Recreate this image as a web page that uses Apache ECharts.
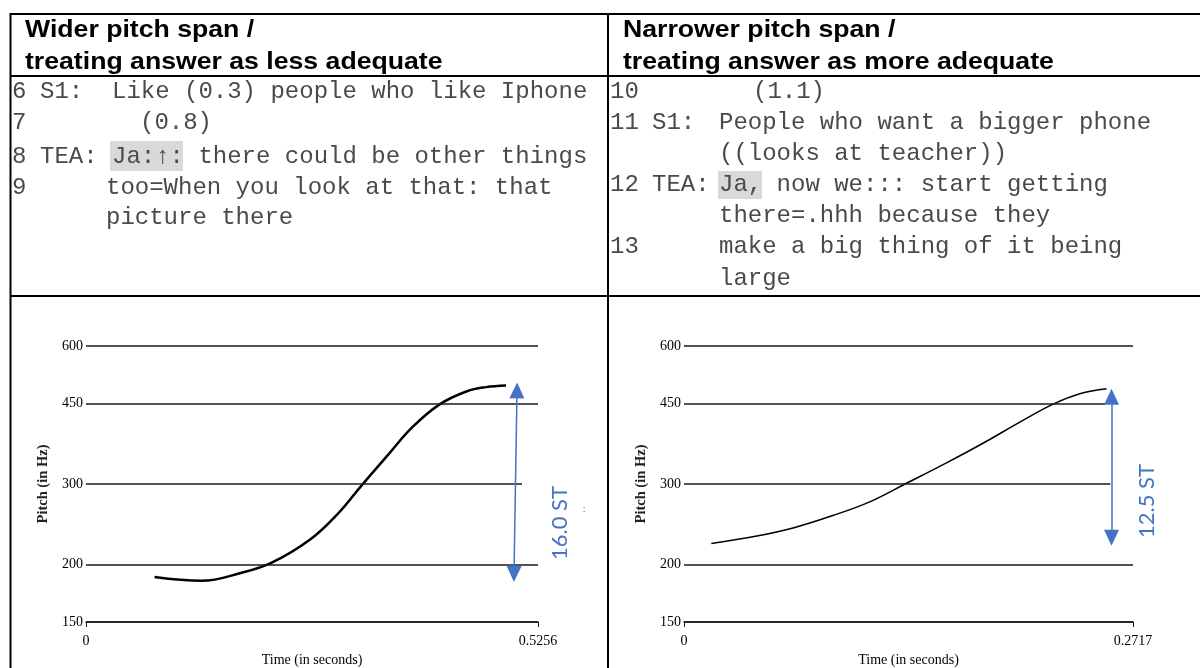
<!DOCTYPE html>
<html>
<head>
<meta charset="utf-8">
<title>Pitch span</title>
<script src="https://cdn.jsdelivr.net/npm/echarts@6/dist/echarts.min.js"></script>
<style>
  html, body { margin: 0; padding: 0; background: #fff; }
  #chart { width: 1200px; height: 668px; }
</style>
</head>
<body>
<div id="chart"></div>
<script>
// pitch ticks shared by both panels (Hz, log scale)
const pitchTicks = [150, 200, 300, 450, 600]

// left panel: wider pitch span
const leftMaxTime = 0.5256
const leftTime = [0.0797, 0.1345, 0.1799, 0.2160, 0.2614, 0.2934, 0.3208, 0.3522, 0.3795, 0.4112, 0.4430, 0.4651, 0.4884]
const leftPitch = [188, 184.5, 191.8, 202, 227.5, 259, 298.4, 349, 399, 447.5, 478, 488, 492]
const leftGridEnd = [0.5256, 0.5256, 0.507, 0.5256, 0.5256]
const leftArrowTime = [0.4977, 0.5012]
const leftArrowPitch = [191, 480]
const leftSpan = '16.0 ST'

// right panel: narrower pitch span
const rightMaxTime = 0.2717
const rightTime = [0.0165, 0.0441, 0.0671, 0.0901, 0.1131, 0.1338, 0.1591, 0.1820, 0.2051, 0.2234, 0.2395, 0.2557]
const rightPitch = [222.5, 231, 241.2, 256.1, 275, 300, 334, 370, 413, 448, 472, 484]
const rightGridEnd = [0.2717, 0.2717, 0.258, 0.255, 0.2717]
const rightArrowTime = [0.2587, 0.2587]
const rightArrowPitch = [229, 465]
const rightSpan = '12.5 ST'

const leftHeader = ['Wider pitch span /', 'treating answer as less adequate']
const rightHeader = ['Narrower pitch span /', 'treating answer as more adequate']

const mono = 'Liberation Mono'
const serif = 'Liberation Serif'
const blue = '#4472C4'

function txt(x, y, text, style, extra) {
  return Object.assign({
    type: 'text', x: x, y: y, z: 10,
    style: Object.assign({
      text: text, fontFamily: mono, fontSize: 24, fill: '#4a4a4a',
      align: 'left', verticalAlign: 'middle'
    }, style || {})
  }, extra || {})
}

function hline(y) {
  return { type: 'line', z: 5, shape: { x1: 10, y1: y, x2: 1200, y2: y }, style: { stroke: '#000', lineWidth: 2 } }
}
function vline(x) {
  return { type: 'line', z: 5, shape: { x1: x, y1: 13, x2: x, y2: 668 }, style: { stroke: '#000', lineWidth: 2 } }
}

// header text in the source is a bit wider than plain Arial bold
const headStyle = { fontFamily: 'Liberation Sans', fontWeight: 'bold', fontSize: 24, fill: '#000' }
const headWide = { scaleX: 1.11 }

const elements = [
  hline(14), hline(76), hline(296), vline(10.5), vline(608),
  // highlighted words
  { type: 'rect', z: 4, shape: { x: 110, y: 141, width: 73, height: 30 }, style: { fill: '#d9d9d9' } },
  { type: 'rect', z: 4, shape: { x: 718, y: 171, width: 44, height: 28 }, style: { fill: '#d9d9d9' } },
  txt(25, 30, leftHeader[0], headStyle, headWide),
  txt(25, 62, leftHeader[1], headStyle, headWide),
  txt(623, 30, rightHeader[0], headStyle, headWide),
  txt(623, 62, rightHeader[1], headStyle, headWide),
  // left transcript
  txt(12, 92, '6'), txt(40, 92, 'S1:'), txt(112, 92, 'Like (0.3) people who like Iphone'),
  txt(12, 123, '7'), txt(140, 123, '(0.8)'),
  txt(12, 157, '8'), txt(40, 157, 'TEA:'), txt(112, 157, 'Ja:\u2191: there could be other things'),
  txt(12, 188, '9'), txt(106, 188, 'too=When you look at that: that'),
  txt(106, 218, 'picture there'),
  // right transcript
  txt(610, 92, '10'), txt(753, 92, '(1.1)'),
  txt(610, 123, '11'), txt(652, 123, 'S1:'), txt(719, 123, 'People who want a bigger phone'),
  txt(719, 154, '((looks at teacher))'),
  txt(610, 185, '12'), txt(652, 185, 'TEA:'), txt(719, 185, 'Ja, now we::: start getting'),
  txt(719, 216, 'there=.hhh because they'),
  txt(610, 247, '13'), txt(719, 247, 'make a big thing of it being'),
  txt(719, 279, 'large'),
  // span labels
  { type: 'text', x: 560, y: 523, rotation: Math.PI / 2, z: 10,
    style: { text: leftSpan, fontFamily: 'Lato', fontSize: 22, fill: blue, align: 'center', verticalAlign: 'middle' } },
  { type: 'text', x: 1147, y: 501, rotation: Math.PI / 2, z: 10,
    style: { text: rightSpan, fontFamily: 'Lato', fontSize: 22, fill: blue, align: 'center', verticalAlign: 'middle' } },
  { type: 'text', x: 584, y: 509, z: 10,
    style: { text: ':', fontFamily: 'Lato', fontSize: 9, fill: blue, align: 'center', verticalAlign: 'middle' } }
]

function xAxisFor(i, maxTime) {
  return {
    type: 'value', gridIndex: i, min: 0, max: maxTime, interval: maxTime,
    axisLine: { show: true, lineStyle: { color: '#1a1a1a', width: 1.5 } },
    axisTick: { show: true, length: 5, lineStyle: { color: '#1a1a1a' } },
    axisLabel: { fontFamily: serif, fontSize: 14, color: '#000', margin: 12, formatter: v => String(v) },
    splitLine: { show: false },
    name: 'Time (in seconds)', nameLocation: 'middle', nameGap: 31,
    nameTextStyle: { fontFamily: serif, fontSize: 14, color: '#000' }
  }
}

function yAxisFor(i) {
  return {
    type: 'log', gridIndex: i, min: 150, max: 600, logBase: 10,
    axisLine: { show: false }, axisTick: { show: false }, axisLabel: { show: false },
    splitLine: { show: false }, minorTick: { show: false },
    name: 'Pitch (in Hz)', nameLocation: 'middle', nameGap: 35,
    nameTextStyle: { fontFamily: serif, fontWeight: 'bold', fontSize: 14.5, color: '#222' }
  }
}

function gridSeries(i, gridEnd) {
  return {
    type: 'line', xAxisIndex: i, yAxisIndex: i, data: [], silent: true,
    markLine: {
      silent: true, animation: false, symbol: ['none', 'none'],
      lineStyle: { color: '#1a1a1a', width: 1.5, type: 'solid' },
      label: { show: true, position: 'start', distance: 3, formatter: p => p.name,
        fontFamily: serif, fontSize: 14, color: '#000' },
      emphasis: { disabled: true },
      data: pitchTicks.map((v, k) => [{ coord: [0, v], name: String(v) }, { coord: [gridEnd[k], v] }])
    }
  }
}

function curveSeries(i, times, pitch, width, arrowT, arrowP) {
  return {
    type: 'line', xAxisIndex: i, yAxisIndex: i, smooth: 0.4, showSymbol: false, silent: true,
    data: times.map((t, k) => [t, pitch[k]]),
    lineStyle: { color: '#000', width: width },
    z: 3,
    markLine: {
      silent: true, animation: false, symbol: ['triangle', 'triangle'], symbolSize: [15, 16],
      lineStyle: { color: blue, width: 1.5, type: 'solid' },
      label: { show: false },
      emphasis: { disabled: true },
      data: [[{ coord: [arrowT[0], arrowP[0]] }, { coord: [arrowT[1], arrowP[1]] }]]
    }
  }
}

const chart = echarts.init(document.getElementById('chart'))
chart.setOption({
  animation: false,
  backgroundColor: '#fff',
  grid: [
    { left: 86, top: 346, width: 452, height: 279 },
    { left: 684, top: 346, width: 449, height: 279 }
  ],
  xAxis: [xAxisFor(0, leftMaxTime), xAxisFor(1, rightMaxTime)],
  yAxis: [yAxisFor(0), yAxisFor(1)],
  series: [
    gridSeries(0, leftGridEnd),
    gridSeries(1, rightGridEnd),
    curveSeries(0, leftTime, leftPitch, 2.5, leftArrowTime, leftArrowPitch),
    curveSeries(1, rightTime, rightPitch, 1.5, rightArrowTime, rightArrowPitch)
  ],
  graphic: { elements: elements }
})
</script>
</body>
</html>
